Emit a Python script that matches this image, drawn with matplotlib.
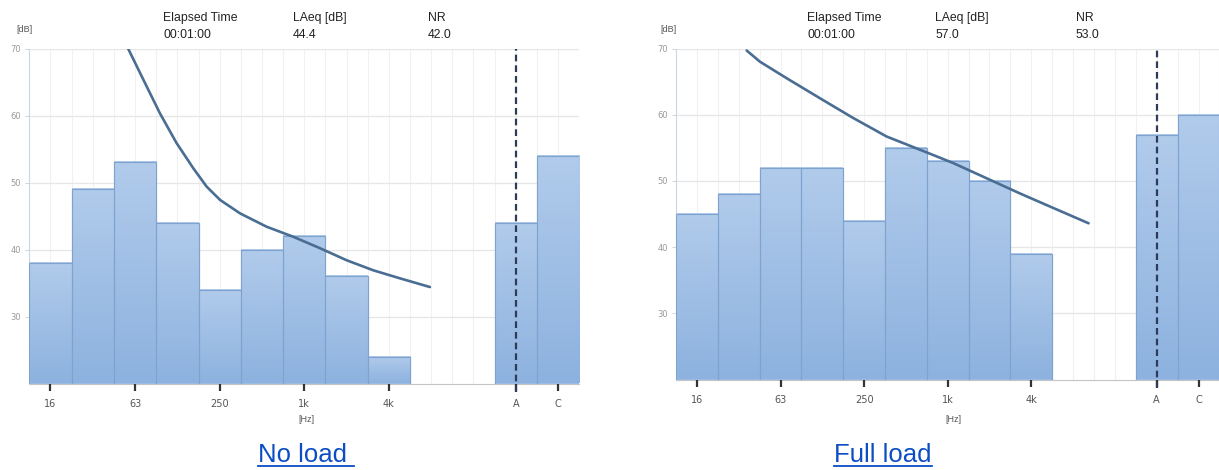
import matplotlib
matplotlib.use("Agg")
import matplotlib.pyplot as plt
import numpy as np
from matplotlib.colors import LinearSegmentedColormap
from matplotlib.lines import Line2D

# ------------------------------------------------------------------
# Data
# ------------------------------------------------------------------
band_labels = ["16", "31.5", "63", "125", "250", "500", "1k", "2k", "4k"]
band_pos = [0, 1, 2, 3, 4, 5, 6, 7, 8]
weight_labels = ["A", "C"]
weight_pos = [11, 12]

tick_pos = [0, 2, 4, 6, 8, 11, 12]
tick_labels = ["16", "63", "250", "1k", "4k", "A", "C"]

no_load_bands = [38, 49, 53, 44, 34, 40, 42, 36, 24]
no_load_weighted = [44, 54]
full_load_bands = [45, 48, 52, 52, 44, 55, 53, 50, 39]
full_load_weighted = [57, 60]

# NR curve, x in band-slot units (16 Hz = 0)
no_load_nr_x = [1.82, 2.2, 2.59, 2.98, 3.38, 3.69, 4.01, 4.48, 5.11, 5.74, 6.37, 7.0, 7.63, 8.26, 8.97]
no_load_nr_y = [70.2, 65.3, 60.3, 55.9, 52.1, 49.4, 47.4, 45.4, 43.4, 41.9, 40.2, 38.4, 36.9, 35.7, 34.4]
full_load_nr_x = [1.19, 1.51, 2.15, 2.94, 3.74, 4.54, 5.34, 6.13, 6.93, 7.73, 8.53, 9.37]
full_load_nr_y = [69.7, 68.0, 65.5, 62.5, 59.5, 56.7, 54.7, 52.7, 50.4, 48.1, 45.9, 43.6]

header_names = ["Elapsed Time", "LAeq [dB]", "NR"]
no_load_header = ["00:01:00", "44.4", "42.0"]
full_load_header = ["00:01:00", "57.0", "53.0"]

W, H = 1219, 470
fig = plt.figure(figsize=(W / 100, H / 100), dpi=100)

bar_cmap = LinearSegmentedColormap.from_list("bar", ["#8db2df", "#b1cbeb"])
grad = np.linspace(0, 1, 256).reshape(-1, 1)


def px(x, y):
    # pixel (top-left origin) -> figure fraction
    return x / W, 1 - y / H


def draw_panel(rect, bands, weighted, nr_x, nr_y):
    ax = fig.add_axes(rect)

    # grid
    for v in np.arange(-0.5, 12.6, 0.5):
        ax.axvline(v, color="#f1f1f1", lw=0.8, zorder=0)
    for v in [30, 40, 50, 60, 70]:
        ax.axhline(v, color="#e6e6e6", lw=0.9, zorder=0)

    levels = bands + weighted
    bars = ax.bar(band_pos + weight_pos, [b - 20 for b in levels], width=1.0, bottom=20,
                  color="#9fbfe6", edgecolor="#7fa3cf", linewidth=0.8, zorder=2)
    for p in bars.patches:
        x0, y0 = p.get_x(), p.get_y()
        ax.imshow(grad, extent=[x0, x0 + p.get_width(), y0, y0 + p.get_height()],
                  origin="lower", cmap=bar_cmap, aspect="auto", zorder=2.5)
        ax.add_patch(plt.Rectangle((x0, y0), p.get_width(), p.get_height(),
                                   fill=False, edgecolor="#7fa3cf", lw=0.8, zorder=3))
    ax.set_xlim(-0.5, 12.5)
    ax.set_ylim(20, 70)

    ax.plot(nr_x, nr_y, color="#4a6d93", lw=1.9, zorder=4, solid_capstyle="round")
    ax.axvline(weight_pos[0], color="#2c3b58", lw=1.6, ls=(0, (3, 1.8)), zorder=5,
               ymin=-0.025, ymax=1.0, clip_on=False)

    for s in ["top", "right"]:
        ax.spines[s].set_visible(False)
    ax.spines["left"].set_color("#c9d6e4")
    ax.spines["bottom"].set_color("#c4c4c4")
    ax.spines["bottom"].set_zorder(1)

    ax.set_xticks(tick_pos)
    ax.set_xticklabels(tick_labels)
    ax.tick_params(axis="x", length=5, width=1.6, color="#333333", pad=6,
                   labelsize=7, labelcolor="#555555")
    ax.set_yticks([30, 40, 50, 60, 70])
    ax.tick_params(axis="y", length=3, width=0.6, color="#cccccc", pad=3,
                   labelsize=6, labelcolor="#9a9a9a")
    return ax


ax1 = draw_panel([29.3 / W, (H - 383.5) / H, 549.9 / W, 335 / H],
                 no_load_bands, no_load_weighted, no_load_nr_x, no_load_nr_y)
ax2 = draw_panel([676 / W, (H - 379.5) / H, 543.4 / W, 331 / H],
                 full_load_bands, full_load_weighted, full_load_nr_x, full_load_nr_y)

hdr_font = ["Liberation Sans", "DejaVu Sans"]


def headers(dbx, xs, values, hzx):
    fig.text(*px(dbx, 29), "[dB]", fontsize=6.5, color="#555555", va="center", family=hdr_font)
    for x, name, val in zip(xs, header_names, values):
        fig.text(*px(x, 18), name, fontsize=8.8, color="#222222", va="center", family=hdr_font)
        fig.text(*px(x, 35), val, fontsize=8.8, color="#222222", va="center", family=hdr_font)
    fig.text(*px(hzx, 420), "[Hz]", fontsize=6.5, color="#555555", ha="center", va="center",
             family=hdr_font)


headers(16, [163, 293, 428], no_load_header, 306)
headers(660, [807, 935, 1076], full_load_header, 953)

title_font = ["Liberation Sans", "DejaVu Sans"]
fig.canvas.draw()
renderer = fig.canvas.get_renderer()
for cx, label in [(306, "No load "), (883, "Full load")]:
    t = fig.text(*px(cx, 455), label, fontsize=18.5, color="#0b4dc4", ha="center", va="center",
                 family=title_font)
    bb = t.get_window_extent(renderer)
    fig.add_artist(Line2D([bb.x0 / W, bb.x1 / W], [(bb.y0 + 1) / H] * 2,
                          transform=fig.transFigure, color="#0b4dc4", lw=1.3))

plt.savefig("out.png", dpi=100)
